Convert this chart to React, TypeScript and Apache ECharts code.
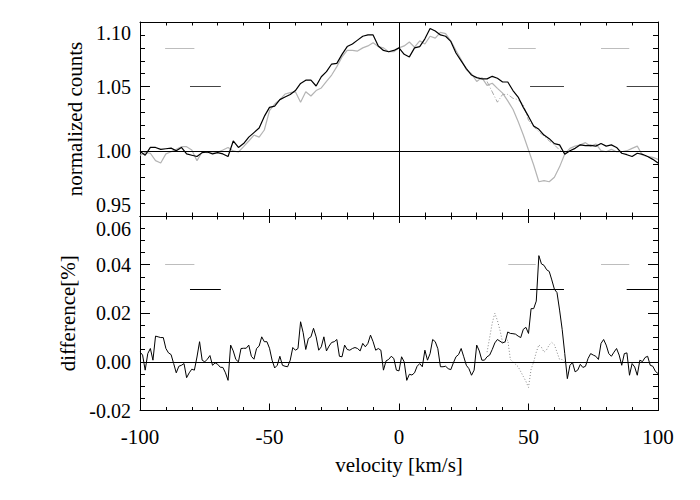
import React, { useEffect, useRef } from "react";
import * as echarts from "echarts";

// velocity grid of the count profiles (km/s)
const velocity = [
  -100, -98, -96, -94, -92, -90, -88, -86, -84, -82, -80, -78, -76, -74, -72, -70, -68, -66, -64, -62,
  -60, -58, -56, -54, -52, -50, -48, -46, -44, -42, -40, -38, -36, -34, -32, -30, -28, -26, -24, -22,
  -20, -18, -16, -14, -12, -10, -8, -6, -4, -2, 0, 2, 4, 6, 8, 10, 12, 14, 16, 18,
  20, 22, 24, 26, 28, 30, 32, 34, 36, 38, 40, 42, 44, 46, 48, 50, 52, 54, 56, 58,
  60, 62, 64, 66, 68, 70, 72, 74, 76, 78, 80, 82, 84, 86, 88, 90, 92, 94, 96, 98, 100,
];

// normalized counts, black profile
const countsBlack = [
  1.0, 0.997, 1.003, 1.003, 1.0015, 1.002, 1.0025, 1.0005, 1.003, 0.998, 0.997, 0.996, 0.999, 0.9995, 0.998, 0.999, 0.998, 0.996, 1.008, 1.003,
  1.006, 1.011, 1.0145, 1.018, 1.027, 1.034, 1.035, 1.04, 1.042, 1.044, 1.047, 1.0525, 1.055, 1.055, 1.0505, 1.0577, 1.0616, 1.0675, 1.068, 1.075,
  1.081, 1.083, 1.086, 1.089, 1.09, 1.09, 1.0815, 1.078, 1.077, 1.078, 1.08, 1.075, 1.073, 1.08, 1.081, 1.087, 1.095, 1.093, 1.09, 1.089,
  1.085, 1.076, 1.07, 1.064, 1.059, 1.057, 1.056, 1.056, 1.058, 1.0565, 1.0536, 1.0536, 1.047, 1.042, 1.034, 1.027, 1.0196, 1.017, 1.0126, 1.0098,
  1.006, 1.005, 0.9977, 1.0005, 1.0023, 1.005, 1.0044, 1.0046, 1.004, 1.006, 1.004, 1.005, 1.003, 0.9985, 0.9974, 0.996, 0.9985, 0.9977, 0.996, 0.9938, 0.991,
];

// normalized counts, grey profile
const countsGrey = [
  0.997, 0.999, 0.9985, 0.9928, 0.991, 0.998, 0.9997, 1.0015, 1.0036, 1.0036, 1.001, 0.9928, 0.9995, 0.999, 0.9997, 0.9992, 1.001, 1.003, 1.0003, 0.9995,
  1.0036, 1.008, 1.0126, 1.011, 1.0165, 1.0314, 1.0366, 1.04, 1.0443, 1.0454, 1.046, 1.038, 1.046, 1.0428, 1.047, 1.049, 1.054, 1.059, 1.0655, 1.073,
  1.078, 1.078, 1.0775, 1.08, 1.0815, 1.084, 1.081, 1.08, 1.077, 1.077, 1.08, 1.0815, 1.0845, 1.0805, 1.0855, 1.083, 1.089, 1.0875, 1.092, 1.091,
  1.0855, 1.078, 1.071, 1.063, 1.06, 1.054, 1.057, 1.051, 1.0526, 1.0487, 1.045, 1.039, 1.0325, 1.023, 1.0126, 1.001, 0.9894, 0.9765, 0.9773, 0.9765,
  0.98, 0.988, 0.998, 1.0023, 1.004, 1.005, 1.0067, 1.004, 1.0057, 1.0005, 0.9997, 1.0015, 0.9997, 0.9997, 1.0005, 1.0023, 1.004, 0.997, 0.996, 0.9954, 0.9938,
];

// dash-dot profile (visible only where it departs from the black one)
const dashVelocity = [34, 36, 38, 40, 42, 44, 46, 48, 50, 52, 54, 56, 58, 60, 62, 64];
const countsDash = [1.054, 1.046, 1.038, 1.044, 1.044, 1.041, 1.04, 1.036, 1.024, 1.019, 1.015, 1.012, 1.008, 1.005, 1.001, 0.999];

// velocity grid of the difference curve (km/s)
const diffVelocity = [
  -100, -99, -98, -97, -96, -95, -94, -93, -92, -91, -90, -89, -88, -87, -86, -85, -84, -83, -82, -81,
  -80, -79, -78, -77, -76, -75, -74, -73, -72, -71, -70, -69, -68, -67, -66, -65, -64, -63, -62, -61,
  -60, -59, -58, -57, -56, -55, -54, -53, -52, -51, -50, -49, -48, -47, -46, -45, -44, -43, -42, -41,
  -40, -39, -38, -37, -36, -35, -34, -33, -32, -31, -30, -29, -28, -27, -26, -25, -24, -23, -22, -21,
  -20, -19, -18, -17, -16, -15, -14, -13, -12, -11, -10, -9, -8, -7, -6, -5, -4, -3, -2, -1,
  0, 1, 2, 3, 4, 5, 6, 7, 8, 9, 10, 11, 12, 13, 14, 15, 16, 17, 18, 19,
  20, 21, 22, 23, 24, 25, 26, 27, 28, 29, 30, 31, 32, 33, 34, 35, 36, 37, 38, 39,
  40, 41, 42, 43, 44, 45, 46, 47, 48, 49, 50, 51, 52, 53, 54, 55, 56, 57, 58, 59,
  60, 61, 62, 63, 64, 65, 66, 67, 68, 69, 70, 71, 72, 73, 74, 75, 76, 77, 78, 79,
  80, 81, 82, 83, 84, 85, 86, 87, 88, 89, 90, 91, 92, 93, 94, 95, 96, 97, 98, 99, 100,
];

// difference [%], black
const diffBlack = [
  0.0041, 0.0028, -0.0034, 0.0034, 0.0055, 0.0007, 0.0106, 0.0103, 0.01, 0.01, 0.0055, 0.0037, 0.003, -0.0007, -0.0045, -0.0018, -0.0014, -0.0007, -0.0065, -0.0045,
  -0.003, -0.0034, 0.002, 0.0083, 0.0007, 0.0, 0.0011, 0.0026, -0.0014, -0.0004, -0.001, -0.0022, -0.0023, -0.0045, -0.0076, 0.0069, 0.0045, 0.001, 0.0, 0.0055,
  0.0056, 0.0056, 0.0069, 0.0023, 0.0011, 0.0055, 0.0065, 0.0103, 0.0083, 0.0083, 0.0056, 0.0007, -0.0025, -0.0014, 0.0023, -0.0014, -0.0018, -0.002, 0.0007, 0.0059,
  0.0048, 0.0055, 0.0165, 0.012, 0.0051, 0.0096, 0.0103, 0.0138, 0.0103, 0.0048, 0.0062, 0.0103, 0.0045, 0.0065, 0.008, 0.0083, 0.0092, 0.0023, 0.0021, 0.0069,
  0.0051, 0.0048, 0.0055, 0.0059, 0.0055, 0.0045, 0.0076, 0.0062, 0.0076, 0.011, 0.0083, 0.0048, 0.0055, 0.0048, -0.0034, 0.0004, 0.001, 0.0023, 0.0014, -0.0034,
  -0.0037, 0.0021, 0.0, -0.0076, -0.0051, -0.0054, -0.0045, -0.0018, -0.0007, -0.002, 0.0048, 0.0007, 0.0034, 0.0092, 0.0083, 0.0054, -0.002, -0.002, -0.0018, -0.0028,
  -0.0032, -0.0004, 0.0021, 0.003, 0.0055, 0.0021, -0.0014, -0.0028, -0.0055, -0.0034, 0.0069, 0.0045, 0.0007, 0.0007, 0.0021, 0.0028, 0.0051, 0.0078, 0.0092, 0.0085,
  0.0078, 0.0083, 0.0123, 0.0117, 0.0116, 0.0114, 0.0106, 0.01, 0.0134, 0.0142, 0.0117, 0.0219, 0.0219, 0.025, 0.0437, 0.0403, 0.0397, 0.0379, 0.0372, 0.0337,
  0.0299, 0.0285, 0.0213, 0.0134, 0.0034, -0.0069, -0.0014, -0.0003, -0.0041, -0.0034, -0.001, -0.0023, -0.0018, 0.0014, 0.0034, 0.0028, 0.0023, 0.001, 0.0076, 0.0092,
  0.0069, 0.0034, 0.0023, 0.004, 0.0055, 0.0028, -0.0014, 0.0034, 0.0037, -0.0055, -0.0007, -0.0021, -0.0055, 0.0007, 0.0001, 0.0018, 0.0023, -0.0014, -0.0018, -0.0039, -0.0048,
];

// difference [%], dotted
const dotVelocity = [34, 35, 36, 37, 38, 39, 40, 41, 42, 43, 44, 45, 46, 47, 48, 49, 50, 51, 52, 53, 54, 55, 56, 57, 58, 59, 60, 61, 62, 63, 64];
const diffDotted = [
  0.004, 0.01, 0.016, 0.02, 0.017, 0.013, 0.008, 0.008, 0.009, 0.001, 0.0, -0.001, -0.002, -0.004, -0.006, -0.008,
  -0.0105, -0.003, 0.0, 0.004, 0.007, 0.006, 0.004, 0.005, 0.007, 0.008, 0.007, 0.004, 0.001, 0.001, 0.0,
];

// short key segments: [x start, x end, y]
const topGreyKeys = [[-90.3, -79.0, 1.08], [42.2, 52.8, 1.08], [78.0, 88.9, 1.08]];
const topDarkKeys = [[-80.7, -68.8, 1.05], [50.6, 63.7, 1.05], [87.9, 100, 1.05]];
const botGreyKeys = [[-90.3, -79.0, 0.04], [42.2, 52.8, 0.04], [78.0, 88.9, 0.04]];
const botDarkKeys = [[-80.7, -68.8, 0.03], [50.6, 63.7, 0.03], [87.9, 100, 0.03]];

const xTicks = { min: -100, max: 100, interval: 50 };
const topY = { min: 0.95, max: 1.1, interval: 0.05, minor: 5 };
const botY = { min: -0.02, max: 0.06, interval: 0.02, minor: 4 };

const FONT = "Liberation Serif";
const FS = 21;
const TICK_FS = 20;

export default function App() {
  const ref = useRef<HTMLDivElement>(null);

  useEffect(() => {
    if (!ref.current) return;
    const chart = echarts.init(ref.current, null, { renderer: "svg" });

    const pair = (xs: number[], ys: number[]) => xs.map((v, i) => [v, ys[i]]);
    const seg = (s: number[], color: string) => [
      { coord: [s[0], s[2]], lineStyle: { color, width: 1, type: "solid" } },
      { coord: [s[1], s[2]] },
    ];
    const axisColor = "#000";

    const xAxis = (gridIndex: number, position: string, showLabel: boolean) => ({
      type: "value",
      gridIndex,
      position,
      min: xTicks.min,
      max: xTicks.max,
      interval: xTicks.interval,
      axisLine: { show: true, onZero: false, lineStyle: { color: axisColor, width: 1 } },
      axisTick: { show: true, inside: true, length: 7, lineStyle: { color: axisColor, width: 1 } },
      minorTick: { show: true, splitNumber: 5, length: 3.5, lineStyle: { color: axisColor, width: 1 } },
      splitLine: { show: false },
      axisLabel: {
        show: showLabel,
        margin: 16,
        fontFamily: FONT,
        fontSize: FS,
        color: "#000",
        formatter: (v: number) => String(Math.round(v)),
      },
      name: showLabel ? "velocity [km/s]" : "",
      nameLocation: "middle",
      nameGap: 44,
      nameTextStyle: { fontFamily: FONT, fontSize: FS, color: "#000" },
    });

    const yAxis = (
      gridIndex: number,
      position: string,
      spec: { min: number; max: number; interval: number; minor: number },
      showLabel: boolean,
      name: string,
      lineHeight: number,
      minAlign: string
    ) => ({
      type: "value",
      gridIndex,
      position,
      min: spec.min,
      max: spec.max,
      interval: spec.interval,
      axisLine: { show: true, onZero: false, lineStyle: { color: axisColor, width: 1 } },
      axisTick: { show: true, inside: true, length: 10, lineStyle: { color: axisColor, width: 1 } },
      minorTick: { show: true, splitNumber: spec.minor, length: 5, lineStyle: { color: axisColor, width: 1 } },
      splitLine: { show: false },
      axisLabel: {
        show: showLabel,
        margin: 9,
        fontFamily: FONT,
        fontSize: TICK_FS,
        lineHeight,
        color: "#000",
        formatter: (v: number) => v.toFixed(2),
        verticalAlignMaxLabel: "top",
        verticalAlignMinLabel: minAlign,
      },
      name,
      nameLocation: "middle",
      nameGap: 54,
      nameRotate: 90,
      nameTextStyle: { fontFamily: FONT, fontSize: FS, color: "#000" },
    });

    chart.setOption({
      animation: false,
      backgroundColor: "#fff",
      textStyle: { fontFamily: FONT },
      grid: [
        { left: 140, top: 22, width: 518, height: 194, containLabel: false },
        { left: 140, top: 216, width: 518, height: 194.5, containLabel: false },
      ],
      xAxis: [
        xAxis(0, "bottom", false),
        xAxis(0, "top", false),
        xAxis(1, "bottom", true),
        xAxis(1, "top", false),
      ],
      yAxis: [
        yAxis(0, "left", topY, true, "normalized counts", 22, "bottom"),
        yAxis(0, "right", topY, false, "", 22, "bottom"),
        yAxis(1, "left", botY, true, "difference[%]", 26, "middle"),
        yAxis(1, "right", botY, false, "", 26, "middle"),
      ],
      series: [
        {
          type: "line",
          xAxisIndex: 0,
          yAxisIndex: 0,
          data: pair(velocity, countsGrey),
          showSymbol: false,
          lineStyle: { color: "#b4b4b4", width: 1.2 },
          z: 2,
        },
        {
          type: "line",
          xAxisIndex: 0,
          yAxisIndex: 0,
          data: pair(dashVelocity, countsDash),
          showSymbol: false,
          lineStyle: { color: "#a8a8a8", width: 1, type: [5, 2, 1, 2] },
          z: 2,
        },
        {
          type: "line",
          xAxisIndex: 0,
          yAxisIndex: 0,
          data: pair(velocity, countsBlack),
          showSymbol: false,
          lineStyle: { color: "#000", width: 1.2 },
          z: 3,
          markLine: {
            silent: true,
            symbol: "none",
            label: { show: false },
            lineStyle: { color: "#000", width: 1, type: "solid" },
            data: [
              { yAxis: 1.0 },
              { xAxis: 0 },
              ...topGreyKeys.map((s) => seg(s, "#bdbdbd")),
              ...topDarkKeys.map((s) => seg(s, "#444")),
            ],
          },
        },
        {
          type: "line",
          xAxisIndex: 2,
          yAxisIndex: 2,
          data: pair(dotVelocity, diffDotted),
          showSymbol: false,
          lineStyle: { color: "#888", width: 1, type: [1, 2] },
          z: 2,
        },
        {
          type: "line",
          xAxisIndex: 2,
          yAxisIndex: 2,
          data: pair(diffVelocity, diffBlack),
          showSymbol: false,
          lineStyle: { color: "#000", width: 1 },
          z: 3,
          markLine: {
            silent: true,
            symbol: "none",
            label: { show: false },
            lineStyle: { color: "#000", width: 1, type: "solid" },
            data: [
              { yAxis: 0 },
              ...botGreyKeys.map((s) => seg(s, "#bdbdbd")),
              ...botDarkKeys.map((s) => seg(s, "#000")),
            ],
          },
        },
      ],
    });

    return () => chart.dispose();
  }, []);

  return (
    <div
      ref={ref}
      style={{ position: "fixed", left: 0, top: 0, width: 700, height: 500, background: "#fff" }}
    />
  );
}
